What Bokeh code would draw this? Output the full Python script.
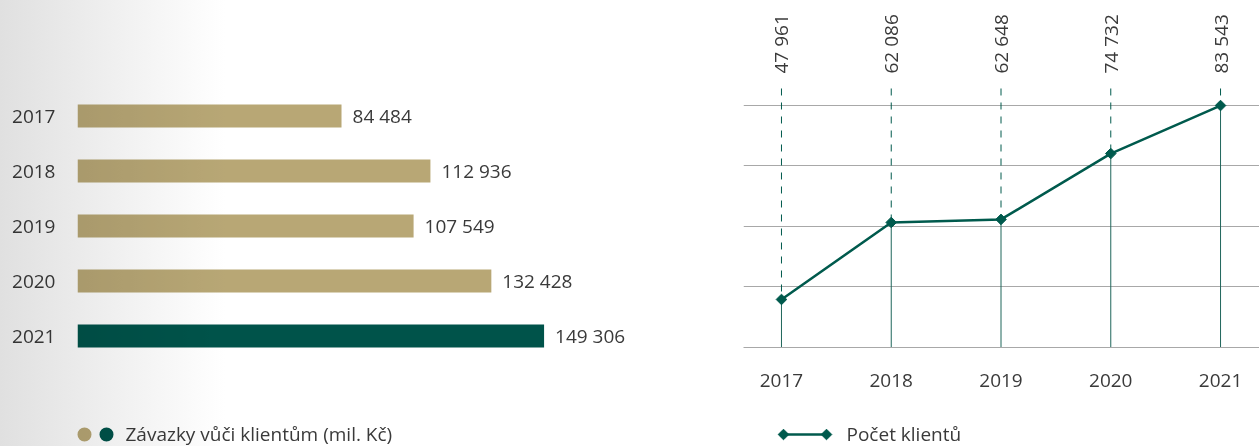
import math
from bokeh.plotting import figure
from bokeh.models import Range1d, FactorRange, FixedTicker, ColumnDataSource, InlineStyleSheet
from bokeh.layouts import row, column
from bokeh.core.properties import value
from bokeh.embed import file_html
from bokeh.resources import INLINE

# ---------------- data ----------------
years = ["2017", "2018", "2019", "2020", "2021"]
liabilities = [84484, 112936, 107549, 132428, 149306]   # Závazky vůči klientům (mil. Kč)
clients = [47961, 62086, 62648, 74732, 83543]           # Počet klientů
legend_bar = "Závazky vůči klientům (mil. Kč)"
legend_line = "Počet klientů"
highlight_year = "2021"

# ---------------- style ----------------
FONT = "Open Sans"
FS = "19px"
GOLD = "#b8a775"
GREEN = "#00534a"
LINE_GREEN = "#005a4d"
TEXT = "#3a3a3a"
GRID = "#a8a8a8"


def fmt(v):
    return f"{v:,}".replace(",", " ")


# ---------------- left: horizontal bars ----------------
bar_src = ColumnDataSource(dict(
    year=years,
    value=liabilities,
    label=[fmt(v) for v in liabilities],
    color=[GREEN if y == highlight_year else GOLD for y in years],
))

left = figure(width=720, height=410,
              y_range=FactorRange(*reversed(years)),
              x_range=Range1d(0, 205760),
              output_backend="svg", toolbar_location=None,
              min_border_left=77, min_border_right=0,
              min_border_top=88, min_border_bottom=47)
left.frame_align = False
left.hbar(y="year", left=0, right="value", height=0.42, fill_color="color",
          line_color=None, source=bar_src)
left.text(x="value", y="year", text="label", x_offset=11, text_align="left",
          text_baseline="middle", text_font=value(FONT), text_font_size=FS,
          text_color=TEXT, source=bar_src)
left.xaxis.visible = False
left.grid.visible = False
left.yaxis.axis_line_color = None
left.yaxis.major_tick_line_color = None
left.yaxis.minor_tick_line_color = None
left.yaxis.major_tick_out = 0
left.yaxis.major_label_standoff = 22
left.yaxis.major_label_text_font = FONT
left.yaxis.major_label_text_font_size = FS
left.yaxis.major_label_text_color = TEXT
left.outline_line_color = None
left.background_fill_color = "white"
left.border_fill_color = "white"

# ---------------- right: line chart ----------------
year_num = [int(y) for y in years]
GRID_LO = 39150
GRID_STEP = 11100
grid_vals = [GRID_LO + i * GRID_STEP for i in range(5)]
TOP_GRID = grid_vals[-1]
DASH_TOP = 86670

line_src = ColumnDataSource(dict(x=year_num, y=clients, label=[fmt(v) for v in clients]))

right = figure(width=539, height=410,
               x_range=Range1d(2016.654, 2021.355),
               y_range=Range1d(GRID_LO, 102814),
               output_backend="svg", toolbar_location=None,
               min_border_left=23, min_border_right=0,
               min_border_top=0, min_border_bottom=63)
right.frame_align = False
right.yaxis.visible = False
right.xgrid.visible = False
right.ygrid.ticker = FixedTicker(ticks=grid_vals)
right.ygrid.grid_line_color = GRID
right.ygrid.grid_line_width = 1
right.xaxis.ticker = FixedTicker(ticks=year_num)
right.xaxis.major_label_overrides = {n: s for n, s in zip(year_num, years)}
right.xaxis.axis_line_color = GRID
right.xaxis.major_tick_line_color = None
right.xaxis.minor_tick_line_color = None
right.xaxis.major_tick_out = 0
right.xaxis.major_label_standoff = 26
right.xaxis.major_label_text_font = FONT
right.xaxis.major_label_text_font_size = FS
right.xaxis.major_label_text_color = TEXT
right.outline_line_color = None
right.border_fill_color = "white"

right.segment(x0="x", y0=DASH_TOP, x1="x", y1="y", line_color=LINE_GREEN,
              line_width=1, line_dash="7 7", source=line_src)
right.segment(x0="x", y0="y", x1="x", y1=GRID_LO, line_color="#1f665b",
              line_width=1, source=line_src)
right.line(x="x", y="y", line_color=LINE_GREEN, line_width=2.5, source=line_src)
right.scatter(x="x", y="y", marker="square", angle=math.pi / 4, size=7.5,
              fill_color=LINE_GREEN, line_color=LINE_GREEN, source=line_src)
right.text(x="x", y=TOP_GRID, text="label", angle=math.pi / 2, y_offset=-32,
           text_align="left", text_baseline="middle", text_font=value(FONT),
           text_font_size=FS, text_color=TEXT, source=line_src)

# ---------------- legends ----------------
def legend_fig(width, x0, x1):
    f = figure(width=width, height=36, x_range=Range1d(x0, x1), y_range=Range1d(446, 410),
               output_backend="svg", toolbar_location=None, min_border=0)
    f.frame_align = False
    f.axis.visible = False
    f.grid.visible = False
    f.outline_line_color = None
    f.background_fill_color = "white"
    f.border_fill_color = "white"
    return f

LY = 434      # swatch centre line
LTXT = 433    # text middle line

leg_l = legend_fig(720, 0, 720)
leg_l.scatter(x=[84, 106], y=[LY, LY], marker="circle", size=14,
              fill_color=[GOLD, GREEN], line_color=None)
leg_l.text(x=[125], y=[LTXT], text=[legend_bar], text_align="left", text_baseline="middle",
           text_font=value(FONT), text_font_size=FS, text_color=TEXT)

leg_r = legend_fig(539, 720, 1259)
leg_r.line(x=[783, 826], y=[LY, LY], line_color=LINE_GREEN, line_width=2.5)
leg_r.scatter(x=[783, 826], y=[LY, LY], marker="square", angle=math.pi / 4, size=7.5,
              fill_color=LINE_GREEN, line_color=LINE_GREEN)
leg_r.text(x=[846], y=[LTXT], text=[legend_line], text_align="left", text_baseline="middle",
           text_font=value(FONT), text_font_size=FS, text_color=TEXT)

css = InlineStyleSheet(css="""
:host { position: relative; }
:host::after {
  content: "";
  position: absolute;
  left: 0; top: 0; bottom: 0;
  width: 240px;
  background: linear-gradient(to right, #e0e0e0 0px, #ffffff 225px);
  mix-blend-mode: multiply;
  pointer-events: none;
  z-index: 10;
}
""")

layout = column(row(left, right), row(leg_l, leg_r), stylesheets=[css])

open("out.html", "w").write(file_html(layout, INLINE))
